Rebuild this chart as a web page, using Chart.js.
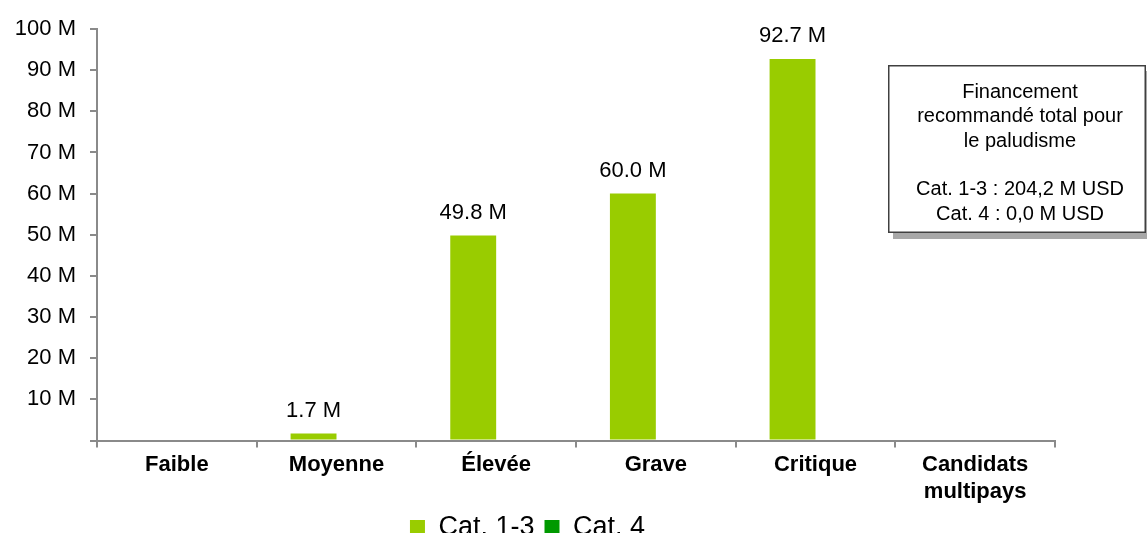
<!DOCTYPE html>
<html>
<head>
<meta charset="utf-8">
<script src="https://cdn.jsdelivr.net/npm/chart.js@4/dist/chart.umd.min.js"></script>
<style>
html,body{margin:0;padding:0;background:#fff;overflow:hidden;width:1147px;height:533px;}
canvas{display:block;}
</style>
</head>
<body>
<canvas id="c" width="1147" height="551"></canvas>
<script>
// ---- data ----
const categories = ['Faible', 'Moyenne', 'Élevée', 'Grave', 'Critique', ['Candidats', 'multipays']];
const seriesNames = ['Cat. 1-3', 'Cat. 4'];
const cat13 = [0, 1.7, 49.8, 60.0, 92.7, 0];   // millions USD
const cat4 = [0, 0, 0, 0, 0, 0];
const yTickValues = [0, 10, 20, 30, 40, 50, 60, 70, 80, 90, 100];
const noteLines = ['Financement', 'recommandé total pour', 'le paludisme', '', 'Cat. 1-3 : 204,2 M USD', 'Cat. 4 : 0,0 M USD'];

const FONT = "'Liberation Sans', Arial, Helvetica, sans-serif";
const AXIS = '#8a8a8a';

const dataLabels = {
  id: 'dataLabels',
  afterDatasetsDraw(chart) {
    const ctx = chart.ctx;
    const meta = chart.getDatasetMeta(0);
    ctx.save();
    ctx.font = '22px ' + FONT;
    ctx.fillStyle = '#000';
    ctx.textAlign = 'center';
    ctx.textBaseline = 'alphabetic';
    meta.data.forEach((bar, i) => {
      const v = chart.data.datasets[0].data[i];
      if (v > 0) ctx.fillText(v.toFixed(1) + ' M', bar.x, bar.y - 17);
    });
    ctx.restore();
  }
};

const noteBox = {
  id: 'noteBox',
  afterDraw(chart) {
    const ctx = chart.ctx;
    const x = 888, y = 65, w = 258, h = 168;
    ctx.save();
    ctx.fillStyle = '#a8a8a8';
    ctx.fillRect(x + 5, y + 6, w, h);
    ctx.fillStyle = '#fff';
    ctx.fillRect(x, y, w, h);
    ctx.strokeStyle = '#404040';
    ctx.lineWidth = 1.5;
    ctx.strokeRect(x + 0.75, y + 0.75, w - 1.5, h - 1.5);
    ctx.fillStyle = '#000';
    ctx.font = '20px ' + FONT;
    ctx.textAlign = 'center';
    ctx.textBaseline = 'alphabetic';
    const cx = 1020;
    let by = 98;
    noteLines.forEach((t) => {
      if (t) ctx.fillText(t, cx, by);
      by += 24.3;
    });
    ctx.restore();
  }
};

new Chart(document.getElementById('c'), {
  type: 'bar',
  data: {
    labels: categories,
    datasets: [
      { label: seriesNames[0], data: cat13, backgroundColor: '#99cc00', borderWidth: 0 },
      { label: seriesNames[1], data: cat4, backgroundColor: '#009900', borderWidth: 0 }
    ]
  },
  options: {
    responsive: false,
    animation: false,
    devicePixelRatio: 1,
    layout: { padding: { left: 0, right: 92, top: 29, bottom: 0 } },
    datasets: { bar: { categoryPercentage: 0.575, barPercentage: 1 } },
    plugins: {
      tooltip: { enabled: false },
      legend: {
        position: 'bottom',
        labels: {
          font: { family: FONT, size: 27 },
          color: '#000',
          boxWidth: 15,
          boxHeight: 15,
          padding: 10
        }
      }
    },
    scales: {
      x: {
        grid: { offset: true, drawOnChartArea: false, drawTicks: true, tickLength: 7, color: AXIS, lineWidth: 2 },
        border: { color: AXIS, width: 2 },
        ticks: {
          font: { family: FONT, size: 22, weight: 'bold', lineHeight: 1.27 },
          color: '#000',
          maxRotation: 0,
          autoSkip: false,
          padding: 3
        },
        afterFit(scale) { scale.height = 63.5; }
      },
      y: {
        min: 0,
        max: 100,
        afterBuildTicks(scale) { scale.ticks = yTickValues.map(v => ({ value: v })); },
        grid: { drawOnChartArea: false, drawTicks: true, tickLength: 7, color: AXIS, lineWidth: 2 },
        border: { color: AXIS, width: 2 },
        ticks: {
          font: { family: FONT, size: 22 },
          color: '#000',
          padding: 14,
          callback: (v) => (v === 0 ? '' : v + ' M')
        },
        afterFit(scale) { scale.width = 97; }
      }
    }
  },
  plugins: [dataLabels, noteBox]
});
</script>
</body>
</html>
